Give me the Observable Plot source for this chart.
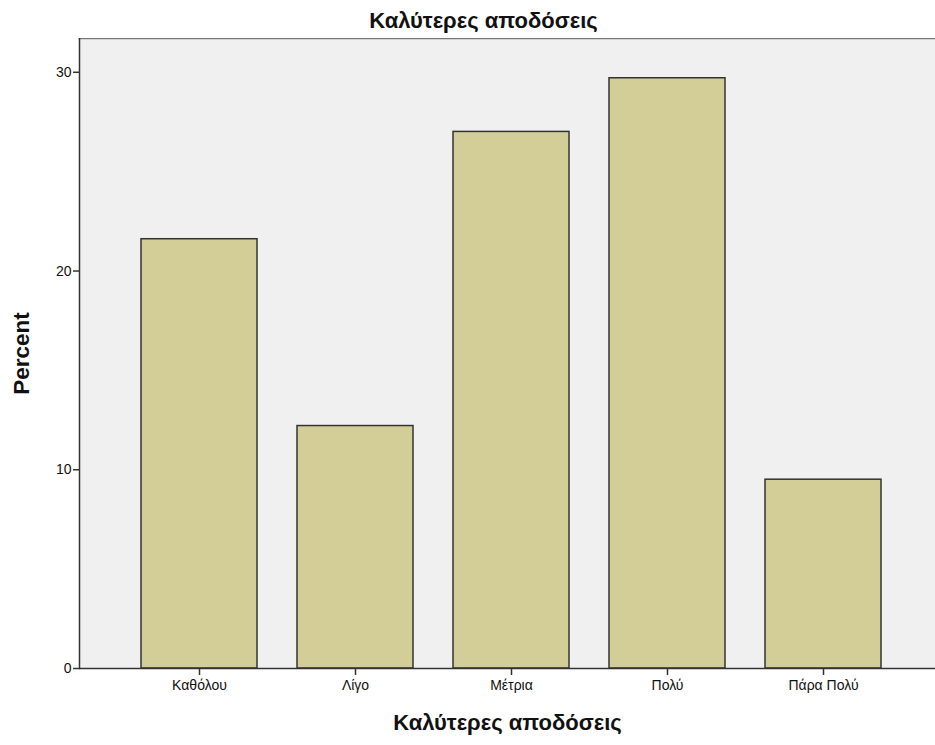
<!DOCTYPE html>
<html>
<head>
<meta charset="utf-8">
<script src="https://cdn.jsdelivr.net/npm/d3@7"></script>
<script src="https://cdn.jsdelivr.net/npm/@observablehq/plot@0.6"></script>
<style>
  html, body { margin: 0; padding: 0; background: #ffffff; }
  #title { width: 903px; height: 38px; line-height: 42px; text-align: center; padding-left: 32px;
    font-family: "Liberation Sans", Arial, sans-serif;
    font-size: 22px; font-weight: bold; color: #111; }
  #chart svg { display: block; font-family: "Liberation Sans", Arial, sans-serif; }
  #chart [aria-label="x-axis label"], #chart [aria-label="y-axis label"] { font-weight: bold; }
  #chart [aria-label="y-axis label"] { font-size: 22.5px; }
  #chart [aria-label="x-axis label"] { font-size: 22px; }
  #chart [aria-label="x-axis tick label"], #chart [aria-label="y-axis tick label"] { font-size: 14px; }
</style>
</head>
<body>
<div id="title">Καλύτερες αποδόσεις</div>
<div id="chart"></div>
<script>
const categories = ["Καθόλου", "Λίγο", "Μέτρια", "Πολύ", "Πάρα Πολύ"];
const percents = [21.6, 12.2, 27.0, 29.7, 9.5];
const yTicks = [0, 10, 20, 30];
const xTitle = "Καλύτερες αποδόσεις";
const yTitle = "Percent";

const data = categories.map((c, i) => ({category: c, percent: percents[i]}));

const chart = Plot.plot({
  width: 935,
  height: 707,
  marginTop: 0,
  marginLeft: 79,
  marginRight: 0,
  marginBottom: 77,
  style: {fontSize: "13px", color: "#111", background: "#ffffff"},
  x: {type: "band", domain: categories, paddingInner: 0.256, paddingOuter: 0.364, align: 0.535},
  y: {domain: [0, 31.7]},
  marks: [
    Plot.frame({fill: "#f0f0f0", stroke: null}),
    Plot.frame({anchor: "top", stroke: "#777", strokeWidth: 1.5}),
    Plot.barY(data, {x: "category", y: "percent", fill: "#d3ce97", stroke: "#333", strokeWidth: 1.5}),
    Plot.frame({anchor: "left", stroke: "#333", strokeWidth: 1.5}),
    Plot.ruleY([0], {stroke: "#333", strokeWidth: 1.5}),
    Plot.axisY({ticks: yTicks, tickSize: 6, tickPadding: 2, stroke: "#333", strokeWidth: 1.5,
      label: yTitle, labelAnchor: "center", labelArrow: "none", labelOffset: 66}),
    Plot.axisX({tickSize: 7, tickPadding: 5, stroke: "#333", strokeWidth: 1.5,
      label: xTitle, labelAnchor: "center", labelArrow: "none", labelOffset: 61})
  ]
});
document.getElementById("chart").appendChild(chart);
</script>
</body>
</html>
